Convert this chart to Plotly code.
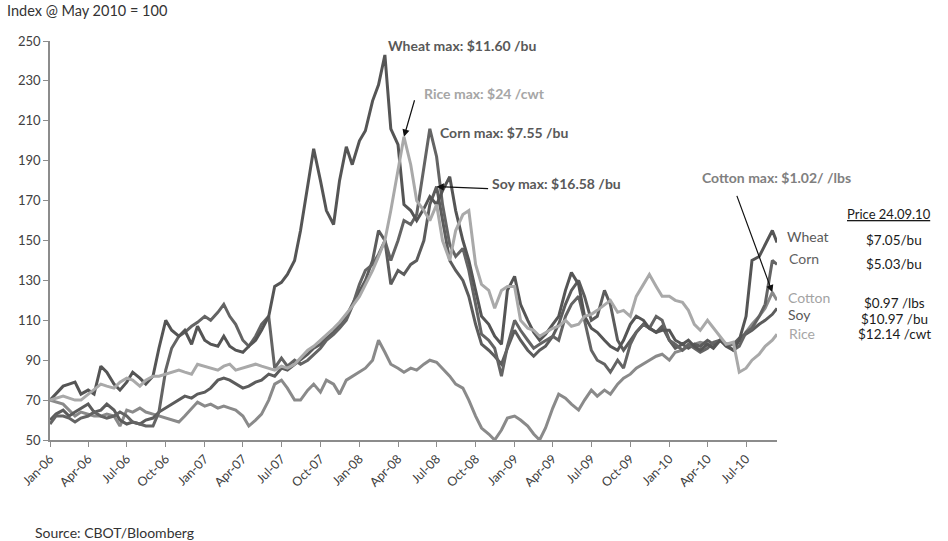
import plotly.graph_objects as go

# ---------------- data (semi-monthly readings, index May 2010 = 100) ----------------
dates = [f"{y}-{m:02d}-{d:02d}" for y in range(2006, 2011) for m in range(1, 13) for d in (1, 15)]
dates = [d for d in dates if d <= "2010-09-01"] + ["2010-09-12"]

wheat = [70, 73, 77, 78, 79, 73, 75, 73, 87, 84, 78, 75, 79, 84, 81, 78, 82, 96, 110, 105, 102, 105, 98, 107,
         100, 98, 97, 102, 97, 95, 94, 97, 100, 105, 112, 127, 129, 133, 140, 155, 177, 196, 180, 165, 158, 180, 197, 188,
         200, 205, 220, 228, 243, 206, 198, 168, 165, 160, 166, 172, 168, 175, 182, 165, 150, 140, 125, 112, 108, 102, 98, 125,
         132, 118, 110, 104, 100, 103, 108, 112, 125, 134, 128, 112, 106, 104, 100, 97, 95, 100, 108, 112, 110, 106, 104, 105,
         105, 100, 98, 100, 97, 95, 98, 96, 100, 97, 95, 100, 112, 140, 142, 148, 155, 149]

corn = [58, 62, 62, 61, 59, 61, 62, 64, 62, 61, 62, 64, 62, 59, 58, 57, 57, 64, 85, 96, 102, 104, 107, 109,
        112, 110, 114, 118, 112, 108, 100, 97, 102, 108, 112, 86, 91, 87, 90, 88, 90, 93, 96, 100, 103, 106, 110, 117,
        128, 135, 138, 143, 150, 140, 150, 160, 158, 163, 188, 206, 192, 168, 148, 142, 146, 135, 118, 103, 100, 96, 82, 97,
        110, 105, 100, 96, 98, 100, 102, 100, 112, 118, 122, 110, 95, 90, 88, 84, 90, 86, 98, 104, 108, 106, 112, 110,
        100, 98, 95, 98, 96, 94, 96, 99, 100, 98, 95, 97, 104, 106, 112, 118, 140, 138]

soy = [60, 63, 65, 62, 64, 66, 68, 64, 65, 68, 65, 60, 58, 59, 58, 60, 61, 64, 66, 68, 70, 72, 71, 73,
       74, 76, 80, 81, 80, 78, 76, 77, 79, 80, 83, 82, 86, 85, 88, 90, 93, 96, 98, 101, 104, 108, 112, 118,
       125, 130, 140, 155, 150, 128, 135, 133, 138, 140, 150, 168, 177, 160, 140, 135, 130, 122, 108, 98, 95, 92, 88, 96,
       105, 100, 95, 92, 95, 97, 102, 108, 118, 125, 130, 122, 110, 112, 125, 118, 100, 95, 100, 104, 108, 106, 104, 107,
       100, 96, 98, 96, 98, 97, 100, 98, 100, 98, 98, 101, 103, 105, 108, 110, 113, 116]

rice = [70, 71, 72, 71, 70, 70, 73, 75, 78, 77, 76, 79, 81, 80, 77, 80, 82, 82, 83, 84, 85, 84, 83, 88,
        87, 86, 85, 87, 88, 85, 86, 87, 88, 87, 86, 85, 87, 86, 88, 91, 95, 97, 100, 103, 106, 109, 113, 117,
        122, 128, 135, 142, 150, 165, 185, 202, 188, 170, 165, 160, 168, 150, 140, 155, 163, 165, 138, 128, 125, 116, 125, 127,
        127, 110, 106, 105, 102, 104, 106, 107, 110, 107, 108, 112, 113, 115, 118, 120, 114, 115, 112, 122, 128, 133, 127, 122,
        122, 120, 119, 115, 108, 105, 110, 106, 102, 98, 99, 84, 86, 90, 93, 97, 100, 103]

cotton = [70, 69, 68, 65, 62, 64, 63, 62, 62, 63, 62, 57, 65, 64, 66, 64, 63, 62, 61, 60, 59, 62, 66, 69,
          67, 68, 66, 67, 66, 65, 62, 57, 60, 63, 70, 78, 80, 76, 70, 70, 75, 78, 74, 80, 78, 73, 80, 82,
          84, 86, 90, 100, 94, 88, 86, 84, 86, 85, 88, 90, 89, 86, 82, 78, 76, 70, 62, 56, 53, 50, 55, 61,
          62, 60, 57, 53, 50, 56, 66, 73, 71, 68, 65, 70, 75, 72, 75, 73, 78, 81, 83, 86, 88, 90, 92, 93,
          90, 94, 95, 97, 98, 99, 98, 97, 100, 98, 98, 100, 104, 108, 112, 116, 124, 120]

series_names = ["Cotton", "Soy", "Corn", "Wheat", "Rice"]
series_values = [cotton, soy, corn, wheat, rice]
series_colors = ["#8a8a8a", "#5c5c5c", "#646464", "#555555", "#a9a9a9"]

end_prices = ["$7.05/bu", "$5.03/bu", "$0.97 /lbs", "$10.97 /bu", "$12.14 /cwt"]

FONT = "Lato, Carlito, 'Open Sans', sans-serif"

fig = go.Figure()
for nm, vals, col in zip(series_names, series_values, series_colors):
    fig.add_trace(go.Scatter(x=dates, y=vals, mode="lines", name=nm,
                             line=dict(color=col, width=3), hoverinfo="skip", showlegend=False))

fig.update_layout(
    width=948, height=541,
    margin=dict(l=50, r=171, t=41, b=101),
    plot_bgcolor="white", paper_bgcolor="white",
    font=dict(family=FONT, size=12, color="#404040"),
    showlegend=False,
)
axis_common = dict(showline=True, linecolor="#8c8c8c", linewidth=1.5, ticks="outside", ticklen=5,
                   tickcolor="#8c8c8c", showgrid=False, zeroline=False)
fig.update_xaxes(type="date", range=["2006-01-01", "2010-09-12"], tickformat="%b-%y", dtick="M3",
                 tick0="2006-01-01", tickangle=-45, tickfont=dict(size=12.5, color="#404040"), **axis_common)
fig.update_yaxes(range=[50, 250], dtick=20, tick0=50, tickfont=dict(size=13, color="#404040"), **axis_common)


def px(xp):
    return (xp - 50) / 727.0


def py(yp):
    return (440 - yp) / 399.0


def label(text, xp, yp, color, size=13, bold=False, anchor="left"):
    t = f"<b>{text}</b>" if bold else text
    fig.add_annotation(text=t, xref="paper", yref="paper", x=px(xp), y=py(yp), xanchor=anchor,
                       yanchor="middle", showarrow=False, font=dict(family=FONT, size=size, color=color))


label("Index @ May 2010 = 100", 5, 11, "#333333", size=14.5)
label("Source: CBOT/Bloomberg", 33, 532, "#333333", size=14)

label("Wheat max: $11.60 /bu", 386, 45, "#595959", size=14, bold=True)
label("Rice max: $24 /cwt", 422, 93, "#a6a6a6", size=14, bold=True)
label("Corn max: $7.55 /bu", 438, 132, "#595959", size=14, bold=True)
label("Soy max: $16.58 /bu", 490, 183, "#595959", size=14, bold=True)
label("Cotton max: $1.02/ /lbs", 700, 177, "#808080", size=14, bold=True)


def arrow_to_max(vals, ax, ay):
    i = max(range(len(vals)), key=lambda k: vals[k])
    fig.add_annotation(x=dates[i], y=vals[i], xref="x", yref="y", text="", showarrow=True,
                       ax=ax, ay=ay, arrowhead=2, arrowsize=1.2, arrowwidth=1.2, arrowcolor="#111111",
                       standoff=0)


arrow_to_max(rice, 11, -38)
arrow_to_max(soy, 53, 2)
arrow_to_max(cotton, -36, -98)

label("Wheat", 785, 236, "#595959", size=14)
label("Corn", 787, 258, "#626262", size=14)
label("Cotton", 786, 297, "#a3a3a3", size=14)
label("Soy", 786, 314, "#595959", size=14)
label("Rice", 787, 333, "#a6a6a6", size=14)

label("<u>Price 24.09.10</u>", 889, 214, "#1a1a1a", anchor="center")
for txt, yp in zip(end_prices, [240, 264, 303, 319, 334]):
    label(txt, 894, yp, "#1a1a1a", size=13.5, anchor="center")

fig.write_html("out.html", config={"displayModeBar": False},
               post_script="document.body.style.margin='0';document.body.style.overflow='hidden';")
